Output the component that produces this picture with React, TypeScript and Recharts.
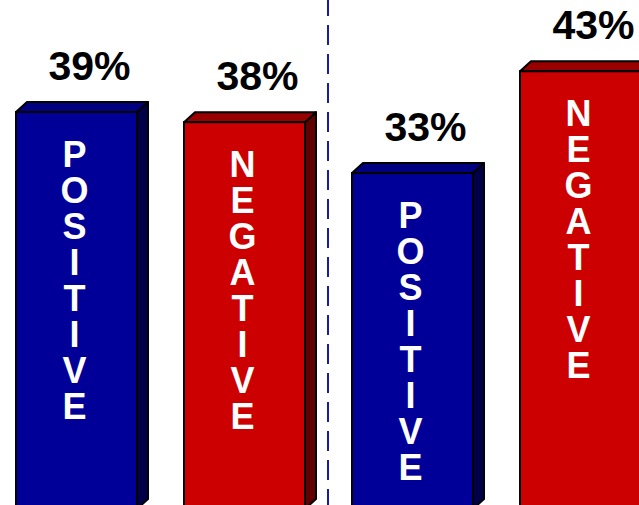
import React from 'react';
import { BarChart, Bar, XAxis, YAxis, LabelList, ReferenceLine } from 'recharts';

// two survey waves, positive vs negative share
const sentiments = ['POSITIVE', 'NEGATIVE', 'POSITIVE', 'NEGATIVE'];
const shares = [39, 38, 33, 43];

const COLORS: Record<string, { front: string; top: string; side: string }> = {
  POSITIVE: { front: '#000099', top: '#000080', side: '#00004a' },
  NEGATIVE: { front: '#cc0000', top: '#990000', side: '#600000' },
};

const data = sentiments.map((s, i) => ({ pos: i, sentiment: s, value: shares[i] }));

const DX = 11;
const DY = 10;

const Bar3D = (props: any) => {
  const { x, y, width, height, payload } = props;
  const c = COLORS[payload.sentiment];
  const top = `${x},${y} ${x + DX},${y - DY} ${x + width + DX},${y - DY} ${x + width},${y}`;
  const side = `${x + width},${y} ${x + width + DX},${y - DY} ${x + width + DX},${y + height - DY} ${x + width},${y + height}`;
  return (
    <g>
      <polygon points={side} fill={c.side} stroke="#000" strokeWidth={2} strokeLinejoin="round" />
      <polygon points={top} fill={c.top} stroke="#000" strokeWidth={2} strokeLinejoin="round" />
      <rect x={x} y={y} width={width} height={height} fill={c.front} stroke="#000" strokeWidth={2} />
    </g>
  );
};

const renderPercent = (props: any) => {
  const { x, y, width, value } = props;
  return (
    <text
      x={x + width / 2 + 13}
      y={y - 32}
      textAnchor="middle"
      fill="#000"
      fontSize={41}
      fontWeight="bold"
      fontFamily="'Liberation Sans', Arial, sans-serif"
    >
      {value}%
    </text>
  );
};

const renderWord = (props: any) => {
  const { x, y, width, value } = props;
  const cx = x + width / 2 - 2;
  const letters = String(value).split('');
  return (
    <text
      x={cx}
      y={y + 55}
      textAnchor="middle"
      fill="#fff"
      fontSize={36}
      fontWeight="bold"
      fontFamily="'Liberation Sans', Arial, sans-serif"
    >
      {letters.map((ch, i) => (
        <tspan key={i} x={cx} dy={i === 0 ? 0 : 36}>
          {ch}
        </tspan>
      ))}
    </text>
  );
};

export default function App() {
  return (
    <div
      style={{
        position: 'absolute',
        left: 0,
        top: 0,
        width: 639,
        height: 505,
        overflow: 'hidden',
        background: '#fff',
      }}
    >
      <div style={{ marginLeft: -8 }}>
        <BarChart
          width={672}
          height={509}
          data={data}
          margin={{ top: 0, right: 0, bottom: 0, left: 0 }}
        >
          <XAxis dataKey="pos" type="number" domain={[-0.5, 3.5]} hide />
          <YAxis domain={[0, 50]} hide />
          <ReferenceLine x={1.5} stroke="#1a1aa6" strokeWidth={2} strokeDasharray="20 9" />
          <Bar dataKey="value" barSize={121} shape={Bar3D} isAnimationActive={false}>
            <LabelList dataKey="value" content={renderPercent} />
            <LabelList dataKey="sentiment" content={renderWord} />
          </Bar>
        </BarChart>
      </div>
    </div>
  );
}
